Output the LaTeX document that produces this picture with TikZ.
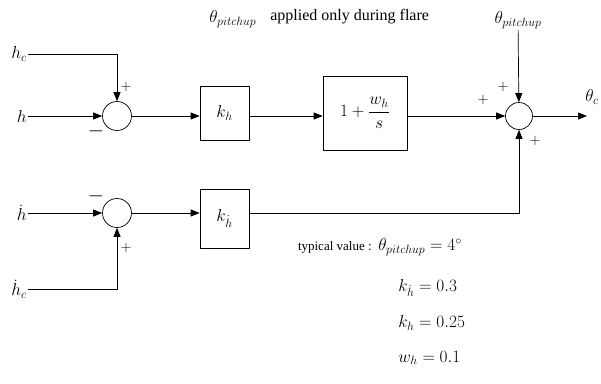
\documentclass[tikz,border=0pt]{standalone}
\usepackage{amsmath}
\usepackage{fontspec}
\setmainfont{Liberation Serif}
\usetikzlibrary{arrows.meta}
\begin{document}
\begin{tikzpicture}[x=1pt,y=-1pt,>={Triangle[length=9pt,width=7pt]},line join=round,line width=0.7pt,
	font=\fontsize{13}{16}\selectfont,
	sumnode/.style={draw,circle,minimum size=29pt,inner sep=0pt},
	gainbox/.style={draw,minimum width=49pt,minimum height=54pt,inner sep=0pt,font=\fontsize{17}{20}\selectfont},
	sig/.style={inner sep=0pt,font=\fontsize{14}{16}\selectfont},
	neg/.style={inner sep=0pt,font=\fontsize{20}{22}\selectfont},
	lab/.style={inner sep=1pt,font=\fontsize{17}{20}\selectfont}]
	\useasboundingbox (0,0) rectangle (601,383);
	% summing junctions and blocks
	\node[sumnode] (s1) at (117,116) {};
	\node[sumnode] (s2) at (117,213) {};
	\node[sumnode,minimum size=27pt] (s3) at (519,116) {};
	\node[gainbox] (kh) at (224.5,113) {$k_h$};
	\node[gainbox,minimum height=59pt] (khd) at (224.5,218.5) {$k_{\dot h}$};
	\node[draw,minimum width=84pt,minimum height=74pt,inner sep=0pt,font=\fontsize{17}{20}\selectfont] (pi) at (365,113) {$1+\dfrac{w_h}{s}$};
	% inputs
	\node[lab,anchor=east] (hc) at (28,54) {$h_c$};
	\node[lab,anchor=east] (h) at (28,116) {$h$};
	\node[lab,anchor=east] (hd) at (28,213) {$\dot h$};
	\node[lab,anchor=east] (hdc) at (28,289) {$\dot h_c$};
	\node[lab] (thp) at (518,20) {$\theta_{pitchup}$};
	\coordinate (out) at (587,116);
	\node[lab] (thc) at (592,97) {$\theta_c$};
	% connectors
	\draw[->] (hc.east) -| (s1);
	\draw[->] (h) -- (s1);
	\draw[->] (hd) -- (s2);
	\draw[->] (hdc.east) -| (s2);
	\draw[->] (s1) -- (s1 -| kh.west);
	\draw[->] (s2) -- (s2 -| khd.west);
	\draw[->] (kh.east |- s1) -- (pi.west |- s1);
	\draw[->] (pi.east |- s3) -- (s3);
	\draw[->] (khd.east |- s2) -| (s3);
	\draw[->] (thp) -- (s3);
	\draw[->] (s3) -- (out);
	% signs
	\node[sig] (p1) at (126,87) {$+$};
	\node[neg] (m1) at (96,131) {$-$};
	\node[neg] (m2) at (96,196) {$-$};
	\node[sig] (p2) at (126,248) {$+$};
	\node[sig] (p3) at (483,100) {$+$};
	\node[sig] (p4) at (503,87) {$+$};
	\node[sig] (p5) at (535,141) {$+$};
	% notes
	\node[anchor=west,inner sep=0pt,font=\fontsize{17}{20}\selectfont] (flare) at (209,19) {$\theta_{pitchup}$};
	\node[anchor=west,inner sep=0pt,font=\fontsize{16}{18}\selectfont] (note) at (270,17) {applied only during flare};
	\node[anchor=east,inner sep=0pt] (tv) at (372,247) {typical value :};
	\foreach \n/\x/\y/\t in {v1/378/247/{\theta_{pitchup}=4^{\circ}},v2/398/288/{k_{\dot h}=0.3},v3/398/323/{k_h=0.25},v4/398/358/{w_h=0.1}}
	\node[anchor=west,inner sep=0pt,font=\fontsize{17}{20}\selectfont] (\n) at (\x,\y) {$\t$};
\end{tikzpicture}
\end{document}
